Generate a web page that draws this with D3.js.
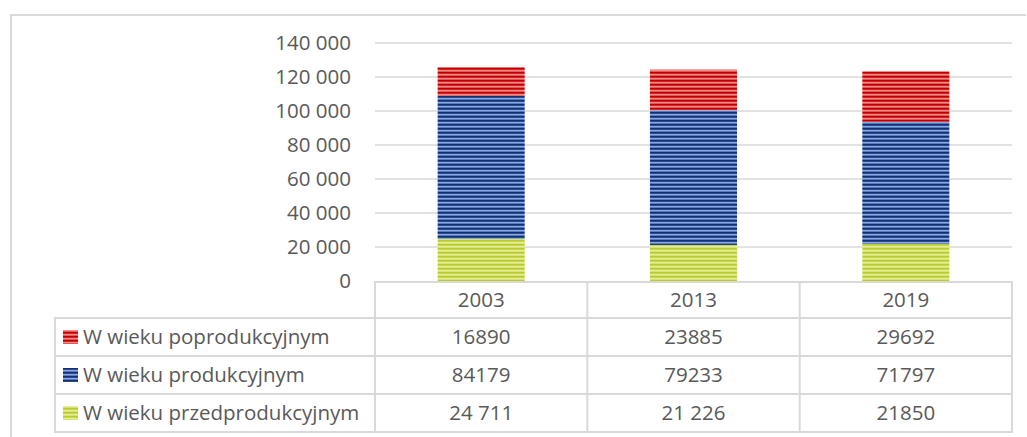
<!DOCTYPE html>
<html>
<head>
<meta charset="utf-8">
<script src="https://cdn.jsdelivr.net/npm/d3@7"></script>
<style>
  body { margin: 0; background: #fff; }
  svg { display: block; font-family: "Open Sans", sans-serif; }
</style>
</head>
<body>
<svg id="chart" width="1027" height="437"></svg>
<script>
const years = ["2003", "2013", "2019"];
const seriesNames = ["W wieku poprodukcyjnym", "W wieku produkcyjnym", "W wieku przedprodukcyjnym"];
const post = [16890, 23885, 29692];
const working = [84179, 79233, 71797];
const pre = [24711, 21226, 21850];
// labels as printed in the table
const postLabels = ["16890", "23885", "29692"];
const workingLabels = ["84179", "79233", "71797"];
const preLabels = ["24 711", "21 226", "21850"];
const yTicks = [0, 20000, 40000, 60000, 80000, 100000, 120000, 140000];

const svg = d3.select("#chart");
const gridColor = "#d9d9d9";
const textColor = "#595959";
const fontSize = "20.5px";

// patterns: horizontal stripes
const defs = svg.append("defs");
function stripes(id, dark, mid, light) {
  const p = defs.append("pattern").attr("id", id)
    .attr("patternUnits", "userSpaceOnUse").attr("width", 8).attr("height", 4);
  p.append("rect").attr("width", 8).attr("height", 4).attr("fill", mid);
  p.append("rect").attr("y", 0).attr("width", 8).attr("height", 1.4).attr("fill", dark);
  p.append("rect").attr("y", 2.2).attr("width", 8).attr("height", 1.1).attr("fill", light);
}
stripes("pPost", "#c00000", "#e03a3a", "#f4a0a0");
stripes("pWork", "#13306e", "#3a5ca8", "#9dbcf2");
stripes("pPre", "#bccb2c", "#cfdc5a", "#ecf2b0");

const fills = ["url(#pPost)", "url(#pWork)", "url(#pPre)"];

// outer frame
svg.append("path")
  .attr("d", "M11,437 V15 H1026")
  .attr("fill", "none").attr("stroke", gridColor).attr("stroke-width", 2);

const plotLeft = 375, plotRight = 1012, plotTop = 43, zeroY = 281;

const y = d3.scaleLinear().domain([0, 140000]).range([zeroY, plotTop]);
const x = d3.scaleBand().domain(years).range([plotLeft, plotRight]).paddingInner(0.59).paddingOuter(0.295);
const col = d3.scaleBand().domain(years).range([plotLeft, plotRight]);

// gridlines
svg.append("g").selectAll("line")
  .data(yTicks.filter(d => d > 0))
  .join("line")
  .attr("x1", plotLeft).attr("x2", plotRight)
  .attr("y1", d => y(d)).attr("y2", d => y(d))
  .attr("stroke", gridColor).attr("stroke-width", 1.3);

// y axis
const fmt = d => d3.format(",")(d).replace(/,/g, " ");
const yAxis = svg.append("g")
  .attr("transform", `translate(351,0)`)
  .call(d3.axisLeft(y).tickValues(yTicks).tickFormat(fmt).tickSize(0).tickPadding(0));
yAxis.select(".domain").remove();
yAxis.selectAll("text")
  .attr("fill", textColor).style("font-size", fontSize)
  .style("font-family", "'Open Sans', sans-serif");

// stacked bars
const rows = years.map((yr, i) => ({ year: yr, pre: pre[i], working: working[i], post: post[i] }));
const stack = d3.stack().keys(["pre", "working", "post"])(rows);
const keyFill = { pre: fills[2], working: fills[1], post: fills[0] };
svg.append("g").selectAll("g")
  .data(stack)
  .join("g")
  .attr("fill", d => keyFill[d.key])
  .selectAll("rect")
  .data(d => d)
  .join("rect")
  .attr("x", d => x(d.data.year))
  .attr("width", x.bandwidth())
  .attr("y", d => y(d[1]))
  .attr("height", d => y(d[0]) - y(d[1]));

// data table
const rowTops = [282, 318, 356, 394, 432];
const tableLeft = 55;
const tbl = svg.append("g").attr("stroke", gridColor).attr("stroke-width", 2).attr("fill", "none");
tbl.append("rect").attr("x", plotLeft).attr("y", rowTops[0]).attr("width", plotRight - plotLeft).attr("height", rowTops[1] - rowTops[0]);
tbl.append("rect").attr("x", tableLeft).attr("y", rowTops[1]).attr("width", plotRight - tableLeft).attr("height", rowTops[4] - rowTops[1]);
[rowTops[2], rowTops[3]].forEach(yy => {
  tbl.append("line").attr("x1", tableLeft).attr("x2", plotRight).attr("y1", yy).attr("y2", yy);
});
years.forEach(yr => {
  tbl.append("line").attr("x1", col(yr)).attr("x2", col(yr)).attr("y1", rowTops[0]).attr("y2", rowTops[4]);
});

const cellText = svg.append("g").attr("fill", textColor).style("font-size", fontSize);
years.forEach(yr => {
  cellText.append("text")
    .attr("x", col(yr) + col.bandwidth() / 2).attr("y", (rowTops[0] + rowTops[1]) / 2)
    .attr("dy", "0.35em").attr("text-anchor", "middle").text(yr);
});
const tableLabels = [postLabels, workingLabels, preLabels];
tableLabels.forEach((labels, r) => {
  const cy = (rowTops[r + 1] + rowTops[r + 2]) / 2;
  svg.append("rect").attr("x", 63).attr("y", cy - 7).attr("width", 15).attr("height", 14).attr("fill", fills[r]);
  cellText.append("text").attr("x", 83).attr("y", cy).attr("dy", "0.35em").text(seriesNames[r]);
  years.forEach((yr, i) => {
    cellText.append("text")
      .attr("x", col(yr) + col.bandwidth() / 2).attr("y", cy)
      .attr("dy", "0.35em").attr("text-anchor", "middle").text(labels[i]);
  });
});
</script>
</body>
</html>
